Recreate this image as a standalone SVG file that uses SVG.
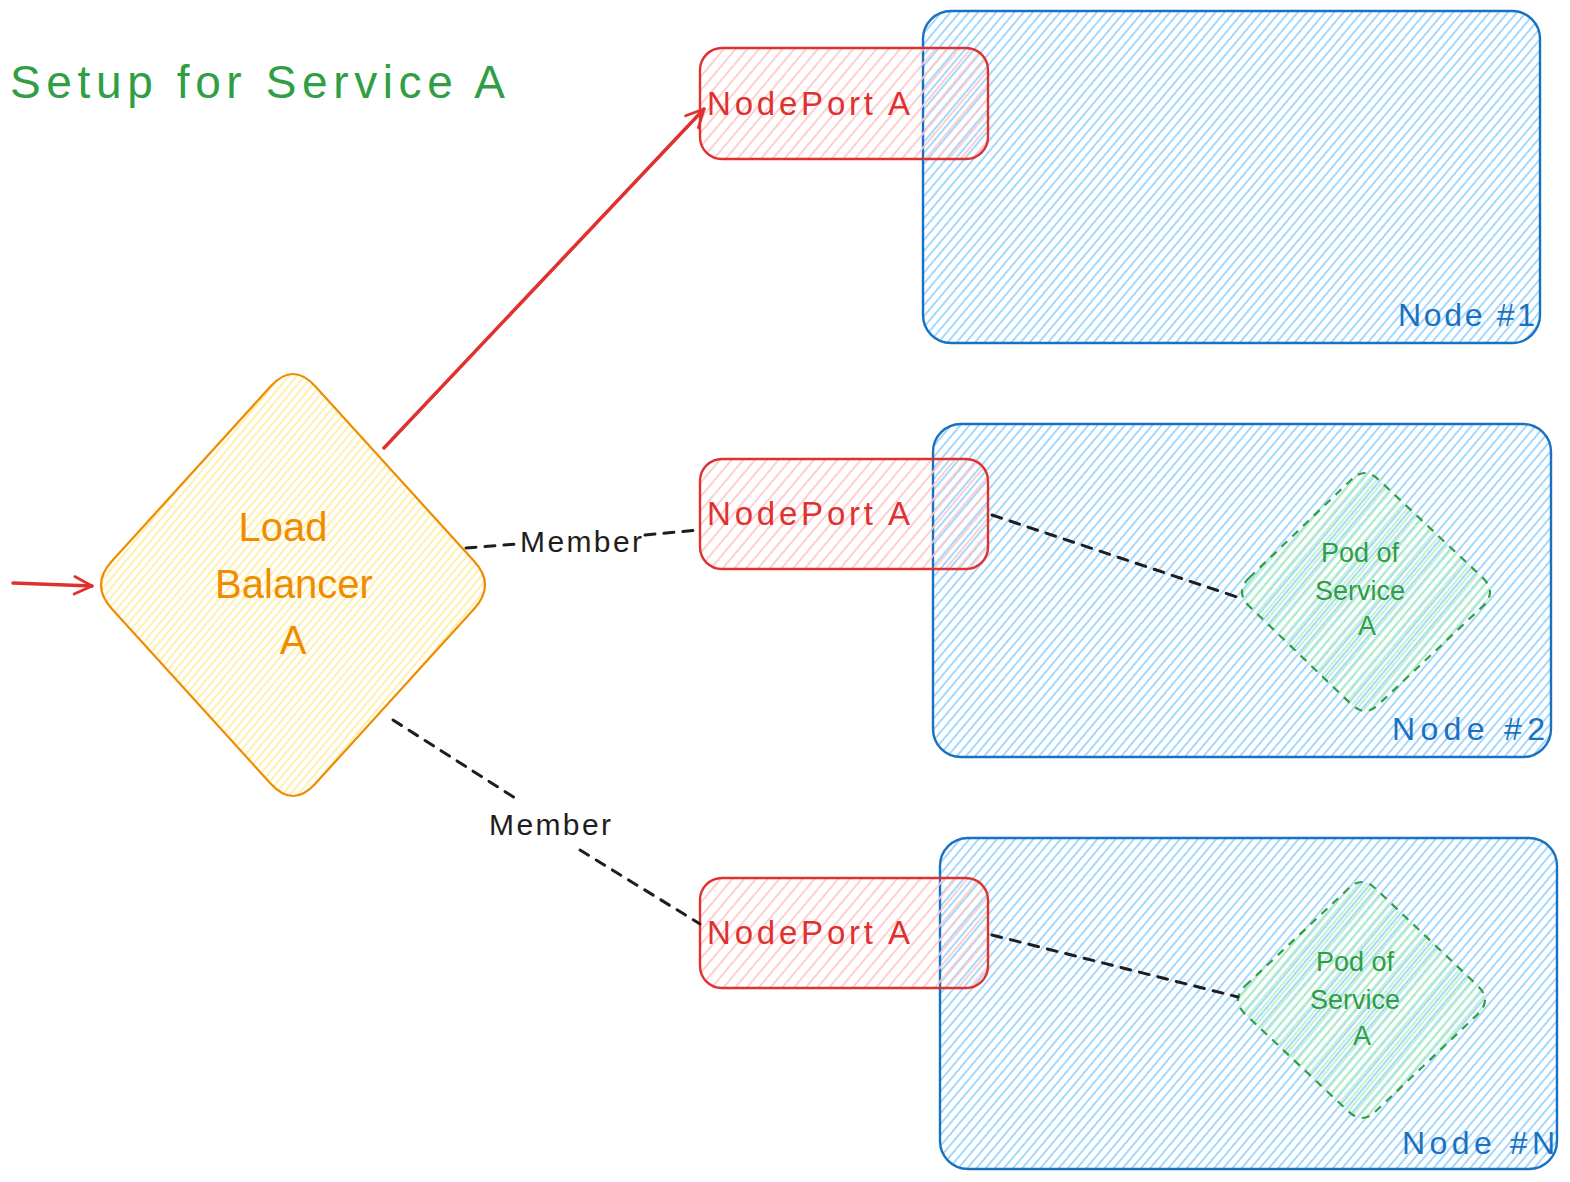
<svg xmlns="http://www.w3.org/2000/svg" width="1570" height="1182" viewBox="0 0 1570 1182">
<defs>
<pattern id="hBlue" width="7" height="7" patternUnits="userSpaceOnUse" patternTransform="rotate(40)"><line x1="1" y1="0" x2="1" y2="7" stroke="#a5d8ff" stroke-width="2"/></pattern>
<pattern id="hRed" width="9" height="9" patternUnits="userSpaceOnUse" patternTransform="rotate(40)"><line x1="1" y1="0" x2="1" y2="9" stroke="#ffc9c9" stroke-width="1.8"/></pattern>
<pattern id="hYellow" width="6" height="6" patternUnits="userSpaceOnUse" patternTransform="rotate(40)"><line x1="1" y1="0" x2="1" y2="6" stroke="#ffec99" stroke-width="1.6"/></pattern>
<pattern id="hGreen" width="6" height="6" patternUnits="userSpaceOnUse" patternTransform="rotate(40)"><line x1="1" y1="0" x2="1" y2="6" stroke="#b2f2bb" stroke-width="1.6"/></pattern>
<marker id="arrRed" viewBox="0 0 12 12" refX="11" refY="6" markerWidth="6" markerHeight="6" orient="auto" markerUnits="strokeWidth"><path d="M1,1 L11,6 L1,11" fill="none" stroke="#e03131" stroke-width="1.6" stroke-linecap="round" stroke-linejoin="round"/></marker>
</defs>
<style>
.node{fill:url(#hBlue);stroke:#1971c2;stroke-width:2.4}
.np{fill:url(#hRed);stroke:#e03131;stroke-width:2.4}
.lb{fill:url(#hYellow);stroke:#f08c00;stroke-width:2.2}
.pod{fill:url(#hGreen);stroke:#2f9e44;stroke-width:2.2;stroke-dasharray:8 7}
.t{font-family:"Liberation Sans",Arial,sans-serif}
.nodeLbl{fill:#1971c2;font-size:32px}
.npLbl{fill:#e03131;font-size:33px}
.lbLbl{fill:#f08c00;font-size:40px}
.podLbl{fill:#2f9e44;font-size:27px}
.mem{fill:#1e1e1e;font-size:30px}
.dash{fill:none;stroke:#1e1e1e;stroke-width:3;stroke-dasharray:10 9;stroke-linecap:round}
.red{fill:none;stroke:#e03131;stroke-width:3.5;stroke-linecap:round}
</style>
<rect width="1570" height="1182" fill="#ffffff"/>
<text class="t" x="10" y="98" font-size="46" fill="#2f9e44" textLength="495" lengthAdjust="spacing">Setup for Service A</text>

<g id="node1"><rect class="node" x="923" y="11" width="617" height="332" rx="28"/><text class="t nodeLbl" x="1398" y="326" textLength="137" lengthAdjust="spacing">Node #1</text></g>
<g id="node2"><rect class="node" x="933" y="424" width="618" height="333" rx="28"/><text class="t nodeLbl" x="1392" y="740" textLength="153" lengthAdjust="spacing">Node #2</text></g>
<g id="nodeN"><rect class="node" x="940" y="838" width="617" height="331" rx="28"/><text class="t nodeLbl" x="1402" y="1154" textLength="153" lengthAdjust="spacing">Node #N</text></g>

<g id="nodeport1"><rect class="np" x="700" y="48" width="288" height="111" rx="22"/><text class="t npLbl" x="707" y="115" textLength="203" lengthAdjust="spacing">NodePort A</text></g>
<g id="nodeport2"><rect class="np" x="700" y="459" width="288" height="110" rx="22"/><text class="t npLbl" x="707" y="525" textLength="203" lengthAdjust="spacing">NodePort A</text></g>
<g id="nodeport3"><rect class="np" x="700" y="878" width="288" height="110" rx="22"/><text class="t npLbl" x="707" y="944" textLength="203" lengthAdjust="spacing">NodePort A</text></g>

<g id="loadbalancer"><path class="lb" d="M112,561 L271,386 Q293,362 315,386 L474,561 Q496,585 474,609 L315,784 Q293,808 271,784 L112,609 Q90,585 112,561 Z"/>
<text class="t lbLbl" text-anchor="middle" dominant-baseline="central"><tspan x="283" y="527">Load</tspan><tspan x="294" y="584">Balancer</tspan><tspan x="293" y="640">A</tspan></text></g>

<g id="pod2"><path class="pod" d="M1249,578 L1351,480 Q1365,466 1379,480 L1483,578 Q1497,592 1483,606 L1379,704 Q1365,718 1351,704 L1249,606 Q1235,592 1249,578 Z"/>
<text class="t podLbl" text-anchor="middle" dominant-baseline="central"><tspan x="1360" y="553">Pod of</tspan><tspan x="1360" y="591">Service</tspan><tspan x="1367" y="626">A</tspan></text></g>
<g id="podN"><path class="pod" d="M1245,986 L1348,889 Q1362,875 1376,889 L1478,986 Q1492,1000 1478,1014 L1376,1111 Q1362,1125 1348,1111 L1245,1014 Q1231,1000 1245,986 Z"/>
<text class="t podLbl" text-anchor="middle" dominant-baseline="central"><tspan x="1355" y="962">Pod of</tspan><tspan x="1355" y="1000">Service</tspan><tspan x="1362" y="1036">A</tspan></text></g>

<g id="connectors">
<line class="red" x1="13" y1="583" x2="92" y2="586" marker-end="url(#arrRed)"/>
<line class="red" x1="384" y1="448" x2="704" y2="109" marker-end="url(#arrRed)"/>
<line class="dash" x1="466" y1="548" x2="518" y2="544"/>
<line class="dash" x1="645" y1="535" x2="699" y2="530"/>
<text class="t mem" x="581" y="552" text-anchor="middle" textLength="122" lengthAdjust="spacing">Member</text>
<line class="dash" x1="393" y1="720" x2="515" y2="798"/>
<line class="dash" x1="580" y1="850" x2="700" y2="924"/>
<text class="t mem" x="550" y="835" text-anchor="middle" textLength="122" lengthAdjust="spacing">Member</text>
<line class="dash" x1="992" y1="515" x2="1240" y2="598"/>
<line class="dash" x1="992" y1="935" x2="1238" y2="997"/>
</g>
</svg>
